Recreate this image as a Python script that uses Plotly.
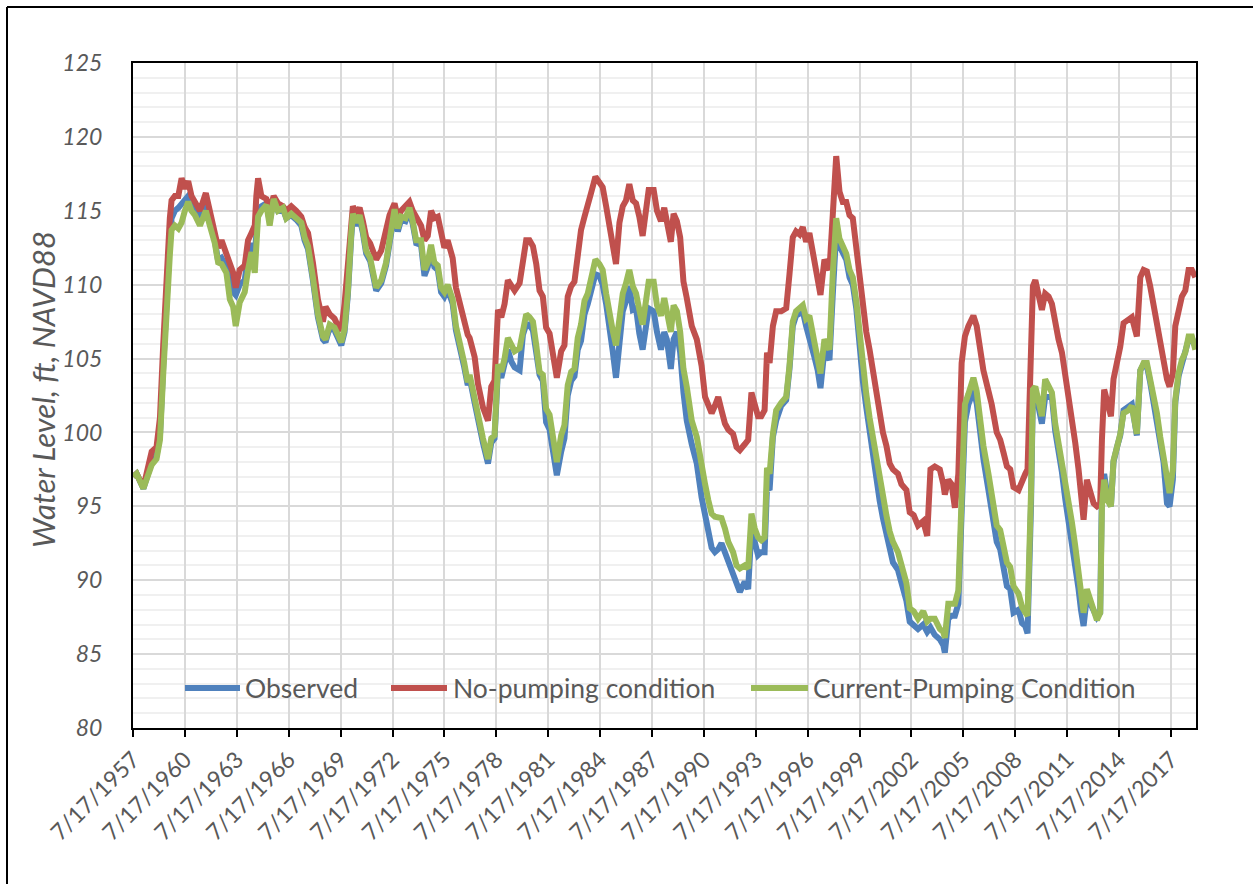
import pandas as pd
import plotly.graph_objects as go

# Sample times as decimal years (7/17/1957 ~ 1957.54)
t_years = [
    1957.56, 1957.75, 1958.14, 1958.33, 1958.62, 1958.90, 1959.10, 1959.29, 1959.48, 1959.67,
    1959.77, 1959.96, 1960.16, 1960.35, 1960.54, 1960.73, 1960.92, 1961.12, 1961.41, 1961.75,
    1961.98, 1962.27, 1962.46, 1962.66, 1962.94, 1963.14, 1963.33, 1963.48, 1963.71, 1964.00,
    1964.19, 1964.39, 1964.58, 1964.67, 1964.77, 1964.96, 1965.25, 1965.44, 1965.67, 1965.92,
    1966.21, 1966.40, 1966.69, 1966.98, 1967.27,
    1967.46, 1967.66, 1967.94, 1968.23, 1968.52, 1968.67, 1968.91, 1969.19, 1969.39, 1969.58,
    1969.77, 1969.96, 1970.16, 1970.25, 1970.44, 1970.64, 1970.83, 1971.02, 1971.25, 1971.44,
    1971.60, 1971.89, 1972.17, 1972.37, 1972.66, 1972.85, 1973.04, 1973.29, 1973.52, 1973.71,
    1973.91, 1974.19, 1974.39, 1974.58, 1974.77, 1974.96, 1975.16, 1975.35, 1975.54, 1975.73,
    1976.02, 1976.21, 1976.41, 1976.69, 1976.89,
    1977.00, 1977.29, 1977.48, 1977.77, 1978.06, 1978.25, 1978.44, 1978.64, 1978.83, 1979.02,
    1979.21, 1979.41, 1979.60, 1979.89, 1980.08, 1980.27, 1980.46, 1980.66, 1980.85, 1981.04,
    1981.23, 1981.42, 1981.62, 1981.81, 1982.04, 1982.29, 1982.48, 1982.67, 1982.87, 1983.06,
    1983.25, 1983.44, 1983.64, 1983.83, 1984.02, 1984.27, 1984.50, 1984.69, 1984.89, 1985.08,
    1985.27, 1985.46, 1985.66, 1985.85, 1986.04, 1986.23, 1986.43, 1986.62, 1986.81, 1987.00,
    1987.35, 1987.64, 1987.83, 1988.06, 1988.25, 1988.40, 1988.63, 1988.79, 1988.98, 1989.17,
    1989.36, 1989.55, 1989.84, 1990.13, 1990.41, 1990.61, 1990.80, 1990.99, 1991.18, 1991.37,
    1991.56, 1991.76, 1991.95, 1992.23, 1992.43, 1992.62, 1992.90, 1993.10, 1993.29, 1993.48,
    1993.67, 1993.86, 1994.05, 1994.19, 1994.34, 1994.53, 1994.72, 1995.01, 1995.30, 1995.49,
    1995.68, 1995.87, 1996.07, 1996.26, 1996.45,
    1996.64, 1996.93, 1997.12, 1997.28, 1997.51, 1997.80, 1997.99, 1998.19, 1998.38, 1998.57,
    1998.77, 1998.96, 1999.15, 1999.35, 1999.54, 1999.73, 1999.93, 2000.12, 2000.31, 2000.51,
    2000.70, 2000.89, 2001.09, 2001.28, 2001.47, 2001.76, 2001.96, 2002.25, 2002.44, 2002.67,
    2002.92, 2003.22, 2003.45, 2003.64, 2003.89, 2004.18, 2004.38, 2004.47, 2004.67, 2004.86,
    2005.05, 2005.25, 2005.44, 2005.63, 2005.83, 2006.12, 2006.31, 2006.50, 2006.70, 2006.99,
    2007.18, 2007.47,
    2007.67, 2007.87, 2008.06, 2008.25, 2008.44, 2008.73, 2008.93, 2009.12, 2009.25, 2009.45,
    2009.56, 2009.70, 2009.89, 2010.08, 2010.27, 2010.47, 2010.66, 2010.85, 2011.04, 2011.24,
    2011.43, 2011.62, 2011.82, 2012.01, 2012.20, 2012.34, 2012.49, 2012.68, 2012.88, 2013.07,
    2013.26, 2013.45, 2013.55, 2013.68, 2013.88, 2014.07, 2014.22, 2014.42, 2014.61, 2014.80,
    2015.09, 2015.28, 2015.57, 2015.77, 2015.96, 2016.15, 2016.34, 2016.54, 2016.73, 2016.92,
    2017.11, 2017.31, 2017.46, 2017.65, 2017.79, 2017.98, 2018.17, 2018.37, 2018.56, 2018.75,
    2018.95,
]

# Observed water level (ft, NAVD88)
observed = [
    97.0, 97.2, 96.2, 96.8, 98.0, 98.4, 99.8, 104.5, 109.8, 113.0,
    114.5, 115.0, 115.2, 115.5, 115.8, 116.0, 115.5, 115.0, 114.5, 115.4,
    114.3, 113.0, 111.6, 111.8, 111.2, 110.5, 109.5, 109.3, 110.0, 110.3,
    112.0, 112.8, 112.0, 114.2, 115.0, 115.3, 115.5, 114.3, 115.8, 115.0,
    115.1, 114.5, 114.7, 114.4, 114.0,
    113.0, 112.4, 110.3, 107.8, 106.3, 106.1, 107.1, 106.9, 106.4, 105.9,
    106.8, 109.3, 113.3, 114.6, 114.0, 114.5, 113.5, 112.1, 111.6, 110.3,
    109.6, 110.1, 111.3, 112.8, 114.9, 113.6, 114.4, 114.3, 115.0, 114.1,
    112.8, 112.7, 110.6, 111.2, 112.4, 111.2, 111.0, 109.5, 109.2, 109.7,
    108.7, 106.9, 106.0, 104.4, 103.2,
    103.7, 102.0, 100.7, 99.3, 97.9, 99.3, 99.6, 104.3, 103.7, 104.6,
    105.6, 104.8, 104.4, 104.2, 106.6, 107.3, 107.3, 106.9, 105.3, 103.9,
    103.5, 100.7, 100.2, 98.7, 97.1, 98.7, 99.6, 102.5, 103.5, 103.8,
    105.6, 106.2, 108.0, 108.7, 109.6, 110.7, 110.6, 110.0, 108.7, 106.7,
    105.5, 103.7, 105.9, 108.2, 108.9, 109.9, 108.3, 108.4, 106.7, 105.6,
    108.4, 108.2, 106.8, 105.6, 106.8, 106.3, 104.3, 106.3, 106.8, 105.4,
    102.7, 100.8, 99.2, 97.9, 95.6, 94.5, 93.1, 92.2, 91.9, 92.1,
    92.5, 91.9, 91.3, 90.6, 89.9, 89.2, 89.9, 89.4, 93.5, 92.6,
    91.7, 91.9, 91.9, 96.3, 96.1, 99.7, 100.8, 101.8, 102.2, 104.3,
    107.2, 107.9, 108.0, 108.2, 107.2,
    106.5, 105.1, 104.2, 103.0, 105.6, 104.9, 109.3, 113.5, 112.6, 112.1,
    111.7, 110.5, 110.0, 108.4, 105.6, 103.5, 101.7, 100.0, 98.2, 96.5,
    95.4, 94.2, 93.0, 91.9, 91.2, 90.7, 89.8, 88.6, 87.2, 87.0,
    86.7, 87.0, 86.5, 86.8, 86.3, 86.0, 85.6, 85.1, 87.4, 87.6,
    87.6, 88.4, 96.1, 100.7, 101.9, 102.8, 102.0, 99.9, 98.2, 96.1,
    94.7, 92.6,
    92.1, 90.5, 89.6, 89.4, 87.8, 88.0, 87.1, 86.9, 86.4, 95.0,
    102.7, 102.8, 101.8, 100.6, 102.4, 102.4, 102.4, 100.1, 98.9, 97.3,
    95.5, 94.1, 92.7, 91.0, 89.4, 88.0, 86.9, 88.9, 88.4, 88.0,
    87.5, 87.8, 96.1, 97.2, 95.6, 95.0, 98.0, 99.0, 99.8, 101.5,
    101.7, 101.9, 99.8, 104.2, 104.6, 104.5, 103.4, 102.0, 101.0, 99.4,
    98.0, 95.2, 95.0, 96.8, 102.0, 103.8, 104.6, 105.2, 106.3, 106.4,
    105.8,
]

# Simulated water level without pumping
no_pumping = [
    97.0, 97.2, 96.3, 97.2, 98.7, 99.0, 101.0, 106.0, 111.0, 114.5,
    115.7, 116.0, 116.0, 117.2, 116.5, 117.0, 116.0, 115.5, 115.0, 116.2,
    115.0, 113.8, 112.5, 113.0, 112.0, 111.5, 110.8, 109.8, 111.0, 111.3,
    113.0, 113.5, 114.0, 116.0, 117.2, 116.0, 115.8, 115.0, 116.0, 115.5,
    115.3, 115.0, 115.3, 115.0, 114.6,
    113.9, 113.5, 111.5, 109.0, 107.5, 108.5, 108.0, 107.7, 107.2, 106.9,
    108.7, 111.0, 114.0, 115.3, 114.8, 115.2, 114.3, 113.2, 112.8, 112.0,
    111.7, 112.3, 113.7, 114.7, 115.5, 114.5, 115.0, 115.3, 115.6, 115.0,
    114.5, 114.0, 113.0, 113.3, 115.0, 114.5, 114.6, 113.5, 112.5, 113.0,
    111.8, 109.8, 108.8, 107.2, 106.6,
    106.4, 105.1, 103.3, 101.7, 100.8, 103.1, 103.5, 108.3, 107.8, 108.7,
    110.3, 109.9, 109.6, 110.1, 111.9, 113.0, 113.0, 112.6, 111.4, 109.6,
    109.2, 107.1, 106.7, 105.5, 103.7, 105.5, 105.9, 109.2, 109.9, 110.2,
    111.9, 113.7, 114.6, 115.3, 116.2, 117.3, 116.8, 116.6, 115.3, 113.9,
    112.8, 111.4, 114.2, 115.3, 115.7, 116.8, 115.7, 115.5, 114.6, 113.3,
    116.4, 116.4, 115.0, 114.3, 115.2, 114.3, 112.9, 114.8, 114.3, 113.2,
    110.2, 109.1, 107.2, 106.3, 104.5, 102.4, 101.8, 101.3, 101.8, 102.4,
    101.5, 100.6, 100.2, 99.9, 99.0, 98.8, 99.2, 99.5, 102.7, 101.8,
    101.1, 101.1, 101.5, 105.4, 104.7, 107.2, 108.2, 108.2, 108.4, 110.7,
    113.2, 113.6, 113.4, 113.9, 112.9,
    113.5, 111.7, 110.5, 109.3, 111.7, 111.0, 114.7, 118.7, 116.3, 115.6,
    115.6, 114.7, 114.5, 112.6, 110.3, 108.4, 106.8, 105.6, 104.2, 102.8,
    101.7, 100.0, 99.1, 97.9, 97.5, 97.2, 96.5, 96.1, 94.6, 94.4,
    93.7, 94.0, 93.0, 97.5, 97.7, 97.5, 96.5, 95.8, 96.8, 96.5,
    94.9, 97.2, 104.7, 106.5, 107.2, 107.9, 107.2, 105.8, 104.2, 102.8,
    101.9, 100.0,
    99.5, 98.6, 97.7, 97.5, 96.3, 96.1, 96.8, 97.2, 97.5, 104.5,
    109.9, 110.3, 109.2, 108.3, 109.4, 109.2, 108.7, 107.4, 106.3, 105.4,
    104.0, 102.2, 100.8, 99.3, 97.5, 96.1, 94.1, 96.8, 95.9, 95.2,
    95.0, 95.2, 99.5, 102.9, 102.0, 101.1, 103.6, 104.7, 105.8, 107.4,
    107.6, 107.8, 106.5, 110.5, 111.0, 110.9, 109.9, 108.5, 107.4, 106.0,
    104.7, 103.6, 103.1, 104.0, 107.2, 108.3, 109.2, 109.6, 111.0, 111.0,
    110.5,
]

# Simulated water level under current pumping
current_pumping = [
    97.0, 97.2, 96.2, 96.8, 97.8, 98.2, 99.5, 104.0, 109.0, 112.0,
    113.7, 114.0, 113.8, 114.2, 115.0, 115.6, 115.0, 114.7, 114.0, 115.0,
    114.0, 112.8, 111.5, 111.4, 110.8, 109.0, 108.5, 107.2, 108.8, 109.5,
    111.0, 112.2, 110.8, 113.5, 114.6, 115.0, 115.4, 114.0, 115.8, 115.0,
    115.2, 114.5, 114.8, 114.5, 114.2,
    113.2, 112.6, 110.5, 108.0, 106.5, 106.3, 107.3, 107.1, 106.6, 106.1,
    107.0, 109.5, 113.5, 114.8, 114.2, 114.7, 113.7, 112.3, 111.8, 110.5,
    109.8, 110.3, 111.5, 113.0, 115.1, 113.8, 114.6, 114.5, 115.2, 114.3,
    113.0, 113.0, 111.0, 111.5, 112.7, 111.5, 111.3, 109.8, 109.5, 110.0,
    109.0, 107.2, 106.3, 104.7, 103.4,
    103.9, 102.3, 101.0, 99.6, 98.2, 99.6, 99.8, 104.6, 104.1, 105.0,
    106.4, 105.9, 105.5, 105.7, 107.1, 108.0, 107.8, 107.5, 105.9, 104.1,
    103.9, 101.6, 101.2, 99.8, 98.0, 99.8, 100.5, 103.2, 104.1, 104.3,
    106.4, 107.3, 108.9, 109.4, 110.5, 111.7, 111.4, 111.0, 109.4, 107.8,
    106.9, 105.9, 107.5, 109.4, 110.1, 111.0, 109.9, 109.4, 108.3, 107.3,
    110.2, 110.2, 108.6, 107.9, 109.1, 108.2, 106.8, 108.6, 108.2, 106.8,
    104.3, 103.1, 100.8, 99.7, 97.6, 96.5, 95.4, 94.5, 94.3, 94.2,
    94.2, 93.5, 92.6, 91.9, 91.0, 90.8, 91.0, 90.8, 94.5, 93.5,
    92.9, 92.7, 92.9, 97.6, 97.2, 99.9, 101.5, 102.0, 102.4, 104.5,
    107.5, 108.2, 108.4, 108.6, 107.7,
    107.9, 106.1, 105.1, 104.0, 106.3, 105.6, 110.7, 114.5, 113.1, 112.6,
    112.1, 111.0, 110.5, 108.9, 106.5, 104.4, 102.6, 101.0, 99.6, 98.2,
    97.0, 95.4, 94.4, 93.3, 92.6, 91.9, 91.0, 89.8, 88.1, 87.9,
    87.4, 87.9, 87.2, 87.4, 87.4, 86.7, 86.5, 86.1, 88.4, 88.4,
    88.4, 89.3, 97.2, 101.9, 102.6, 103.7, 102.8, 100.7, 99.1, 97.2,
    95.8, 93.7,
    93.4, 92.3, 91.2, 90.9, 89.6, 89.1, 88.2, 87.8, 87.6, 95.9,
    102.9, 103.1, 102.2, 101.1, 103.6, 103.1, 102.7, 100.6, 99.3, 98.4,
    96.8, 95.4, 93.9, 92.3, 90.5, 88.7, 87.8, 89.4, 88.7, 88.2,
    87.3, 87.8, 95.0, 96.8, 95.4, 95.0, 98.1, 99.0, 99.9, 101.3,
    101.5, 101.8, 99.9, 104.2, 104.7, 104.7, 103.6, 102.2, 101.3, 99.7,
    98.4, 96.8, 95.9, 97.5, 102.2, 104.0, 104.9, 105.4, 106.5, 106.5,
    105.6,
]

series_names = ["Observed", "No-pumping condition", "Current-Pumping Condition"]
series_colors = ["#4f81bd", "#c0504d", "#9bbb59"]

y_ticks = [80, 85, 90, 95, 100, 105, 110, 115, 120, 125]
x_start, x_end = "1957-07-17", "2018-12-28"


def to_timestamp(dec_year):
    yr = int(dec_year)
    start = pd.Timestamp(year=yr, month=1, day=1)
    span = (pd.Timestamp(year=yr + 1, month=1, day=1) - start).days
    return start + pd.Timedelta(days=(dec_year - yr) * span)


dates = [to_timestamp(t) for t in t_years]

# plot-area geometry in pixels (used for the hand-built legend and frame)
W, H = 1253, 884
L, R, T, B = 133, 1196, 63, 728
pw, ph = R - L, B - T


def px_x(x):
    return (x - L) / pw


def px_y(y):
    return (B - y) / ph


fig = go.Figure()
for name, vals, col in zip(series_names, [observed, no_pumping, current_pumping], series_colors):
    fig.add_trace(go.Scatter(
        x=dates, y=vals, name=name, mode="lines",
        line=dict(color=col, width=6), showlegend=False,
    ))

font_family = "Lato, 'Open Sans', sans-serif"
grey = "#595959"

fig.update_layout(
    width=W, height=H,
    margin=dict(l=L, r=W - R, t=T, b=H - B),
    paper_bgcolor="white", plot_bgcolor="white",
    font=dict(family=font_family, color=grey),
    xaxis=dict(
        type="date", range=[x_start, x_end],
        tick0="1957-07-17", dtick="M36", tickformat="%-m/%-d/%Y",
        tickangle=-45, tickfont=dict(size=23, color=grey),
        ticks="outside", ticklen=7, tickwidth=2, tickcolor="black",
        showgrid=True, gridcolor="#d9d9d9", gridwidth=2,
        showline=True, linecolor="black", linewidth=2, mirror=True,
        zeroline=False,
    ),
    yaxis=dict(
        range=[80, 125], tickvals=y_ticks,
        tickfont=dict(size=23, color=grey, style="italic"),
        ticks="", ticklabelstandoff=24,
        showgrid=True, gridcolor="#d9d9d9", gridwidth=2,
        minor=dict(dtick=1, tick0=80, showgrid=True, gridcolor="#f0f0f0", gridwidth=2),
        showline=True, linecolor="black", linewidth=2, mirror=True,
        zeroline=False,
    ),
)

# y-axis title
fig.add_annotation(
    text="Water Level, ft, NAVD88", textangle=-90,
    xref="paper", yref="paper", x=px_x(43), y=px_y(390),
    xanchor="center", yanchor="middle", showarrow=False,
    font=dict(size=31, color=grey, family=font_family, style="italic"),
)

# legend inside the plot, drawn as line segments with labels
legend_items = [(185, 240, 243), (391, 447, 451), (751, 808, 811)]
legend_y = 688
for (x0, x1, xt), name, col in zip(legend_items, series_names, series_colors):
    fig.add_shape(
        type="line", xref="paper", yref="paper",
        x0=px_x(x0), x1=px_x(x1), y0=px_y(legend_y), y1=px_y(legend_y),
        line=dict(color=col, width=6),
    )
    fig.add_annotation(
        text=name, xref="paper", yref="paper", x=px_x(xt), y=px_y(legend_y),
        xanchor="left", yanchor="middle", showarrow=False,
        font=dict(size=26.5, color=grey, family=font_family),
    )

# outer chart frame (top and left edges)
fig.add_shape(type="line", xref="paper", yref="paper",
              x0=px_x(7), x1=px_x(W + 10), y0=px_y(7), y1=px_y(7),
              line=dict(color="black", width=2))
fig.add_shape(type="line", xref="paper", yref="paper",
              x0=px_x(7), x1=px_x(7), y0=px_y(7), y1=px_y(H + 10),
              line=dict(color="black", width=2))

fig.write_html("out.html")
